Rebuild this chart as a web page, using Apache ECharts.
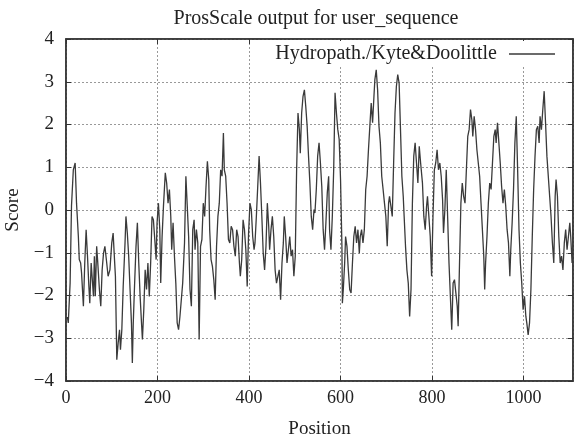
<!DOCTYPE html>
<html>
<head>
<meta charset="utf-8">
<script src="https://cdn.jsdelivr.net/npm/echarts@6/dist/echarts.min.js"></script>
<style>html,body{margin:0;padding:0;background:#fff}#c{width:575px;height:439px}</style>
</head>
<body>
<div id="c"></div>
<script>
const titleText = 'ProsScale output for user_sequence';
const seriesName = 'Hydropath./Kyte&Doolittle';
const xTicks = [0, 200, 400, 600, 800, 1000];
const yTicks = [-4, -3, -2, -1, 0, 1, 2, 3, 4];

const positions = [
3,5,9,12,16,20,22,23,27,29,32,34,38,41,44,47,50,52,55,57,60,62,64,67,69,73,76,79,82,85,89,92,96,100,103,106,108,111,114,117,119,122,125,129,131,134,137,140,143,145,147,150,153,156,159,162,165,167,170,173,176,179,182,185,188,191,194,197,199,202,205,207,210,213,217,220,223,226,229,231,234,237,240,243,246,249,
255,259,262,265,268,271,274,277,280,282,285,288,291,294,297,300,303,306,309,312,314,317,320,323,326,329,332,335,338,341,344,346,349,352,355,358,361,364,367,370,373,376,379,381,384,387,390,393,396,399,402,405,408,411,413,416,419,422,425,428,431,434,437,440,443,445,448,451,454,457,460,463,466,469,472,475,477,480,483,486,489,492,495,498,501,504,507,510,512,515,518,521,
524,527,530,533,536,539,542,544,547,550,553,556,559,562,565,568,571,574,576,579,582,585,588,591,594,597,600,603,604,606,609,611,614,617,620,623,626,629,632,635,638,641,643,646,649,652,655,658,661,664,667,670,673,675,678,681,684,687,690,693,696,699,702,705,707,710,713,716,719,722,725,728,731,734,737,739,742,745,748,751,754,757,760,763,766,769,772,
775,779,782,785,788,790,793,796,799,802,805,808,811,814,817,820,823,825,828,831,834,837,840,843,846,849,852,855,857,860,863,866,869,872,875,878,881,884,887,889,892,895,898,901,904,907,910,913,915,917,920,923,926,929,932,935,938,940,943,946,949,952,955,958,961,964,967,970,972,975,978,981,984,987,990,993,996,999,1002,1005,1007,1010,1013,1016,1019,1022,1025,1028,1031,1034,1036,1039,1042,1045,1048,1051,1054,1057,1060,1063,1066,1069,1071,1074,1077,1080,1083,1086,1089,1092,1095,1098,1101,1103,1106
];

const scores = [
-2.5,-2.64,-1.71,0.09,0.94,1.10,0.48,0.16,-0.62,-1.16,-1.24,-1.47,-2.25,-1.24,-0.46,-1.08,-1.79,-2.18,-1.24,-1.55,-2.02,-1.08,-2.02,-0.85,-1.16,-1.86,-2.25,-1.40,-1.01,-0.85,-1.24,-1.55,-1.40,-0.77,-0.54,-1.16,-1.55,-3.50,-3.11,-2.80,-3.27,-2.80,-1.79,-0.77,-0.15,-0.54,-1.08,-1.86,-2.64,-3.58,-2.64,-1.71,-0.85,-0.30,-1.24,-2.02,-2.64,-3.03,-2.33,-1.40,-1.86,-1.24,-2.02,-1.24,-0.15,-0.23,-0.69,-1.16,-0.30,0.16,-0.46,-1.71,-0.62,0.09,0.87,0.63,0.16,0.48,-0.15,-0.93,-0.30,-1.08,-1.71,-2.64,-2.80,-2.49,
-1.71,-0.77,0.79,0.09,-0.62,-1.86,-2.25,-0.46,-0.23,-0.93,-0.46,-0.77,-3.03,-0.85,-0.69,0.16,-0.15,0.55,1.14,0.71,-0.46,-1.16,-1.32,-1.63,-2.10,-0.85,-0.15,0.16,0.94,0.79,1.80,0.94,0.79,0.16,-0.69,-0.77,-0.38,-0.46,-0.85,-1.08,-0.46,-0.62,-1.24,-1.55,-1.16,-0.23,-0.46,-0.93,-1.79,-0.54,0.16,0.01,-0.62,-0.93,-0.77,-0.15,0.55,1.26,0.63,-0.15,-1.01,-1.40,-0.85,0.16,-0.38,-0.93,-0.46,-0.15,-0.62,-1.40,-1.71,-1.55,-1.40,-2.10,-1.24,-0.77,-0.15,-0.62,-1.24,-0.93,-0.62,-1.08,-0.93,-1.55,-1.08,0.94,2.27,1.88,1.33,2.27,2.66,2.81,
2.42,1.96,1.26,0.63,-0.15,-0.46,0.01,-0.07,0.48,1.26,1.57,1.10,0.55,-0.46,-0.93,-0.30,0.40,0.79,-0.46,-0.93,-0.15,0.94,2.74,2.27,1.88,1.65,0.71,-0.85,-2.18,-1.86,-1.24,-0.62,-0.85,-1.40,-1.86,-1.94,-1.24,-0.62,-0.38,-0.77,-0.46,-1.01,-0.62,-0.46,-0.77,-0.46,0.48,0.79,1.41,1.96,2.50,2.04,2.66,3.05,3.28,2.81,1.96,1.57,0.79,0.48,0.16,-0.15,-0.85,0.16,0.32,0.09,-0.15,1.10,2.27,2.89,3.17,2.97,1.88,0.79,0.32,-0.15,-0.85,-1.40,-1.71,-2.49,-1.86,0.16,1.26,1.57,1.10,0.63,1.49,
1.10,0.63,-0.15,-0.46,0.09,0.32,-0.15,-0.62,-1.55,-0.15,0.94,1.10,1.41,0.94,1.10,0.79,0.24,-0.54,0.01,0.94,-0.15,-1.24,-2.02,-2.80,-1.71,-1.63,-1.94,-2.25,-2.72,-1.24,0.16,0.63,0.32,0.16,0.94,1.72,1.88,2.35,2.11,1.72,2.19,1.88,1.41,1.10,0.79,0.16,-0.46,-1.08,-1.86,-1.24,-0.62,0.16,0.63,0.48,1.10,1.72,1.88,1.57,2.04,1.57,1.10,0.55,0.16,0.48,0.09,-0.46,-0.77,-1.55,-0.93,-0.30,0.48,1.57,2.19,0.94,-0.46,-1.24,-1.71,-2.33,-2.02,-2.49,-2.64,-2.92,-2.64,-1.86,-0.62,0.48,1.26,1.88,1.96,1.57,2.19,1.88,2.35,2.78,2.04,1.26,0.79,0.32,-0.15,-0.77,-1.24,0.32,0.71,0.32,-0.62,-1.24,-1.08,-1.40,-0.77,-0.46,-0.93,-0.62,-0.30,-0.62,-1.24
];

const data = positions.map((p, i) => [p, scores[i]]);
const font = 'Liberation Serif, DejaVu Serif, serif';
const minus = v => String(v).replace('-', '\u2212');

const chart = echarts.init(document.getElementById('c'), null, {renderer: 'canvas'});
const gridLine = {show: true, lineStyle: {color: '#999', type: [2, 2], width: 1}};
const axLine = {show: true, onZero: false, lineStyle: {color: '#333', width: 1.5}};
const tick = {show: true, inside: true, length: 5, lineStyle: {color: '#333'}};
chart.setOption({
  animation: false,
  backgroundColor: '#fff',
  title: {
    text: titleText, left: 311, top: 4, textAlign: 'center',
    textStyle: {fontFamily: font, fontSize: 20, fontWeight: 'normal', color: '#222'}
  },
  legend: {
    data: [seriesName], right: 16, top: 41, align: 'right',
    icon: 'rect', itemWidth: 46, itemHeight: 1.5, itemGap: 0,
    backgroundColor: '#fff', padding: [3, 4, 3, 6],
    textStyle: {fontFamily: font, fontSize: 20, color: '#222', padding: [0, 7, 0, 0]}
  },
  grid: {left: 66, right: 2, top: 39, bottom: 58, show: true, borderColor: '#333', borderWidth: 1.5,
    containLabel: false, outerBoundsMode: 'none'},
  xAxis: [{
    type: 'value', min: 0, max: 1108, interval: 200, position: 'bottom',
    name: 'Position', nameLocation: 'middle', nameGap: 39,
    nameTextStyle: {fontFamily: font, fontSize: 19, color: '#222'},
    axisLine: axLine, axisTick: tick,
    axisLabel: {fontFamily: font, fontSize: 18, color: '#222', margin: 8, showMaxLabel: false,
      formatter: v => (xTicks.indexOf(v) >= 0 ? minus(v) : '')},
    splitLine: gridLine
  }, {
    type: 'value', min: 0, max: 1108, interval: 200, position: 'top',
    axisLine: axLine, axisTick: tick,
    axisLabel: {show: false}, splitLine: {show: false}
  }],
  yAxis: [{
    type: 'value', min: -4, max: 4, interval: 1, position: 'left',
    name: 'Score', nameLocation: 'middle', nameGap: 35, nameRotate: 90,
    nameTextStyle: {fontFamily: font, fontSize: 19, color: '#222'},
    axisLine: axLine, axisTick: tick,
    axisLabel: {fontFamily: font, fontSize: 19, color: '#222', margin: 12,
      formatter: v => (yTicks.indexOf(v) >= 0 ? minus(v) : '')},
    splitLine: gridLine
  }, {
    type: 'value', min: -4, max: 4, interval: 1, position: 'right',
    axisLine: axLine, axisTick: tick,
    axisLabel: {show: false}, splitLine: {show: false}
  }],
  series: [{
    name: seriesName, type: 'line', data: data, symbol: 'none',
    xAxisIndex: 0, yAxisIndex: 0,
    lineStyle: {color: '#3a3a3a', width: 1.3}, itemStyle: {color: '#3a3a3a'}
  }]
});
</script>
</body>
</html>
